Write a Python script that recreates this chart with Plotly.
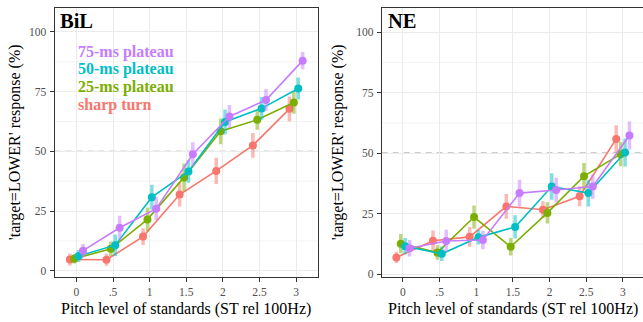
import plotly.graph_objects as go

# ---------------- data ----------------
levels = [0, 0.5, 1, 1.5, 2, 2.5, 3]
tick_labels = ["0", ".5", "1", "1.5", "2", "2.5", "3"]
series_names = ["sharp turn", "25-ms plateau", "50-ms plateau", "75-ms plateau"]
series_colors = ["#F8766D", "#7CAE00", "#00BFC4", "#C77CFF"]
series_rgb = ["248,118,109", "124,174,0", "0,191,196", "199,124,255"]

# BiL panel
bil_sharp = [4.7, 4.6, 14.3, 31.9, 41.8, 52.5, 67.8]
bil_p25 = [5.0, 9.2, 21.5, 39.1, 58.4, 63.2, 70.5]
bil_p50 = [6.2, 10.7, 30.8, 41.6, 62.3, 68.0, 76.3]
bil_p75 = [8.4, 18.0, 26.0, 48.8, 64.6, 71.5, 88.0]
bil_sharp_err = [2.5, 2.5, 3.5, 5.0, 5.5, 5.2, 5.2]
bil_p25_err = [2.0, 3.0, 5.0, 5.8, 5.4, 4.2, 4.8]
bil_p50_err = [2.5, 4.5, 5.2, 4.8, 5.2, 4.8, 4.6]
bil_p75_err = [2.8, 5.0, 4.8, 5.0, 4.8, 4.5, 3.6]

# NE panel
ne_sharp = [6.9, 13.8, 15.4, 28.0, 26.6, 32.2, 55.9]
ne_p25 = [12.6, 8.9, 23.6, 11.3, 25.3, 40.5, 49.6]
ne_p50 = [11.5, 8.4, 15.2, 19.5, 36.2, 33.5, 50.3]
ne_p75 = [10.7, 13.7, 14.1, 33.5, 34.8, 36.2, 57.3]
ne_sharp_err = [2.3, 4.2, 4.1, 5.1, 3.5, 4.1, 5.7]
ne_p25_err = [4.0, 3.0, 4.8, 3.6, 4.4, 5.5, 5.0]
ne_p50_err = [3.4, 3.0, 3.0, 4.8, 5.5, 5.5, 5.8]
ne_p75_err = [3.4, 4.6, 3.8, 5.5, 5.1, 5.0, 5.8]

y_major = [0, 25, 50, 75, 100]
y_minor = [12.5, 37.5, 62.5, 87.5]
chance_level = 50

dodge = [-0.09, -0.03, 0.03, 0.09]

panels = [
    ("BiL", [bil_sharp, bil_p25, bil_p50, bil_p75],
     [bil_sharp_err, bil_p25_err, bil_p50_err, bil_p75_err]),
    ("NE", [ne_sharp, ne_p25, ne_p50, ne_p75],
     [ne_sharp_err, ne_p25_err, ne_p50_err, ne_p75_err]),
]

W, H = 643, 322
FONT = "Liberation Serif"

fig = go.Figure()

for pi, (pname, vals, errs) in enumerate(panels):
    xa = "x" if pi == 0 else "x2"
    ya = "y" if pi == 0 else "y2"
    for si in range(4):
        xs = [lv + dodge[si] for lv in levels]
        fig.add_trace(go.Scatter(
            x=xs, y=vals[si], xaxis=xa, yaxis=ya,
            mode="lines+markers",
            line=dict(color=series_colors[si], width=1.6),
            marker=dict(color=series_colors[si], size=8),
            error_y=dict(type="data", array=errs[si], visible=True,
                         color="rgba(%s,0.5)" % series_rgb[si],
                         thickness=3.5, width=0),
            name=series_names[si], showlegend=False, hoverinfo="skip",
        ))

# panel geometry in pixels
L1, R1 = 54.5, 318.0
L2 = 381.7
TOP, BOT = 7.7, 279.3


def px_x(p):
    return p / W


def px_y(p):
    return 1 - p / H


tickfont = dict(family=FONT, size=11.5, color="#4D4D4D")
common_x = dict(
    tickmode="array", tickvals=levels, ticktext=tick_labels,
    ticks="outside", ticklen=4, tickcolor="#333333", tickwidth=1,
    tickfont=tickfont, ticklabelstandoff=1,
    showgrid=True, gridcolor="#EBEBEB", gridwidth=1.1,
    zeroline=False, showline=True, linecolor="#333333", linewidth=1,
    mirror=True,
)
common_y = dict(
    tickmode="array", tickvals=y_major,
    ticks="outside", ticklen=4, tickcolor="#333333", tickwidth=1,
    tickfont=tickfont, ticklabelstandoff=1,
    showgrid=True, gridcolor="#EBEBEB", gridwidth=1.1,
    zeroline=False, showline=True, linecolor="#333333", linewidth=1,
)

fig.update_layout(
    width=W, height=H,
    margin=dict(l=0, r=0, t=0, b=0),
    paper_bgcolor="white", plot_bgcolor="white",
    xaxis=dict(domain=[px_x(L1), px_x(R1)], range=[-0.3, 3.3],
               anchor="y", **common_x),
    yaxis=dict(domain=[px_y(BOT), px_y(TOP)], range=[-2.5, 110.2],
               anchor="x", mirror=True, **common_y),
    xaxis2=dict(domain=[px_x(L2), 1.0], range=[-0.29, 3.275],
                anchor="y2", **common_x),
    yaxis2=dict(domain=[px_y(BOT), px_y(TOP)], range=[-1.07, 110.2],
                anchor="x2", mirror=False, **common_y),
)

shapes = []
for xr, yr in (("x domain", "y"), ("x2 domain", "y2")):
    for mv in y_minor:
        shapes.append(dict(type="line", xref=xr, yref=yr, x0=0, x1=1,
                           y0=mv, y1=mv, layer="below",
                           line=dict(color="#F0F0F0", width=0.8)))
    shapes.append(dict(type="line", xref=xr, yref=yr, x0=0, x1=1,
                       y0=chance_level, y1=chance_level, layer="below",
                       line=dict(color="#9A9A9A", width=1.2, dash="6px,5px")))
fig.update_layout(shapes=shapes)

ann = []
# panel titles
for name, xr, yr in (("BiL", "x domain", "y domain"), ("NE", "x2 domain", "y2 domain")):
    ann.append(dict(text="<b>%s</b>" % name, xref=xr, yref=yr, x=0.015, y=0.95,
                    xanchor="left", yanchor="middle", showarrow=False,
                    font=dict(family=FONT, size=20.5, color="black")))

# in-panel legend (left panel)
legend_order = [3, 2, 1, 0]
legend_y = [91.8, 84.4, 76.9, 69.4]
for k, si in enumerate(legend_order):
    ann.append(dict(text="<b>%s</b>" % series_names[si], xref="x", yref="y",
                    x=0.0, y=legend_y[k], xanchor="left", yanchor="middle",
                    showarrow=False,
                    font=dict(family=FONT, size=16, color=series_colors[si])))

# axis titles
ytitle = "'target=LOWER' response (%)"
xtitle = "Pitch level of standards (ST rel 100Hz)"
for cx in (15, 338):
    ann.append(dict(text=ytitle, xref="paper", yref="paper",
                    x=cx / W, y=px_y((TOP + BOT) / 2), textangle=-90,
                    xanchor="center", yanchor="middle", showarrow=False,
                    font=dict(family=FONT, size=16, color="black")))
for cx in ((L1 + R1) / 2, L2 + (R1 - L1) / 2):
    ann.append(dict(text=xtitle, xref="paper", yref="paper",
                    x=cx / W, y=0, xanchor="center", yanchor="bottom",
                    showarrow=False, borderpad=0,
                    font=dict(family=FONT, size=16, color="black")))

fig.update_layout(annotations=ann)

fig.write_html("out.html", config={"displayModeBar": False},
               post_script="document.body.style.margin='0';document.body.style.padding='0';")
